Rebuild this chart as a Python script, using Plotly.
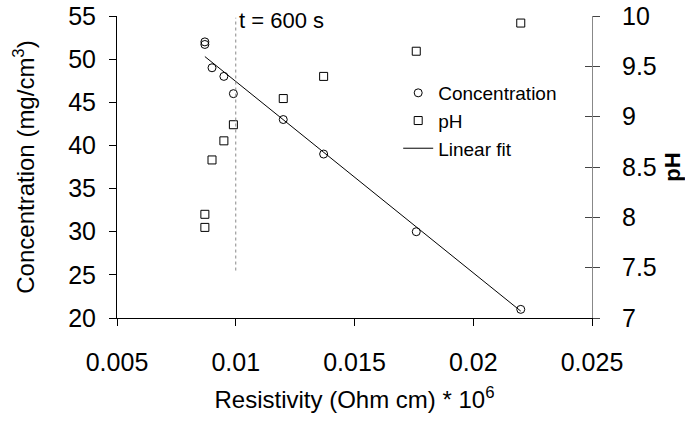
import plotly.graph_objects as go

# ---- data ----
resistivity = [0.0087, 0.0087, 0.0090, 0.0095, 0.0099, 0.0120, 0.0137, 0.0176, 0.0220]
concentration = [52.0, 51.7, 49.0, 48.0, 46.0, 43.0, 39.0, 30.0, 21.0]
ph_resistivity = [0.0087, 0.0087, 0.0090, 0.0095, 0.0099, 0.0120, 0.0137, 0.0176, 0.0220]
ph_values = [7.90, 8.03, 8.57, 8.76, 8.92, 9.18, 9.40, 9.65, 9.93]
fit_x = [0.0087, 0.0220]
fit_y = [50.3, 20.8]
marker_time_x = 0.01
marker_time_y = [25.5, 54.8]
x_ticks = [0.005, 0.01, 0.015, 0.02, 0.025]
x_ticktext = ["0.005", "0.01", "0.015", "0.02", "0.025"]
y_ticks = [20, 25, 30, 35, 40, 45, 50, 55]
ph_ticks = [7, 7.5, 8, 8.5, 9, 9.5, 10]
ph_ticktext = ["7", "7.5", "8", "8.5", "9", "9.5", "10"]

FONT = "Liberation Sans, Arial, sans-serif"

fig = go.Figure()

fig.add_trace(go.Scatter(
    x=resistivity, y=concentration, mode="markers", name="Concentration",
    marker=dict(symbol="circle-open", size=8, color="black", line=dict(width=1, color="black")),
    yaxis="y", hoverinfo="skip"))

fig.add_trace(go.Scatter(
    x=ph_resistivity, y=ph_values, mode="markers", name="pH",
    marker=dict(symbol="square-open", size=8, color="black", line=dict(width=1, color="black")),
    yaxis="y2", hoverinfo="skip"))

fig.add_trace(go.Scatter(
    x=fit_x, y=fit_y, mode="lines", name="Linear fit",
    line=dict(color="black", width=1), yaxis="y", hoverinfo="skip"))

# helper overlay axis carrying the inner half of the crossing right ticks
fig.add_trace(go.Scatter(
    x=ph_resistivity, y=ph_values, mode="markers", showlegend=False,
    marker=dict(opacity=0, size=1), yaxis="y3", hoverinfo="skip"))

fig.add_shape(type="line", xref="x", yref="y",
              x0=marker_time_x, x1=marker_time_x, y0=marker_time_y[0], y1=marker_time_y[1],
              line=dict(color="#888888", width=1, dash="dot"))

fig.add_annotation(x=marker_time_x, y=54.5, xref="x", yref="y", text="t = 600 s",
                   showarrow=False, xanchor="left", yanchor="middle", xshift=1,
                   font=dict(family=FONT, size=22, color="black"))

fig.update_layout(
    width=685, height=422,
    margin=dict(l=117, r=93, t=16, b=104, autoexpand=False),
    paper_bgcolor="white", plot_bgcolor="white",
    font=dict(family=FONT, color="black"),
    showlegend=True,
    legend=dict(x=0.592, y=0.808, xanchor="left", yanchor="top",
                bgcolor="rgba(0,0,0,0)", font=dict(family=FONT, size=19, color="black"),
                tracegroupgap=0),
    xaxis=dict(range=[0.005, 0.025], tickvals=x_ticks, ticktext=x_ticktext,
               automargin=False,
               showgrid=False, zeroline=False, showline=True, linecolor="black", linewidth=1,
               ticks="outside", ticklen=7, tickcolor="black", ticklabelstandoff=15,
               tickfont=dict(family=FONT, size=25, color="black"),
               title=dict(text="Resistivity (Ohm cm) * 10<sup>6</sup>",
                          font=dict(family=FONT, size=24, color="black"), standoff=16)),
    yaxis=dict(range=[20, 55], tickvals=y_ticks,
               automargin=False,
               showgrid=False, zeroline=False, showline=True, linecolor="black", linewidth=1,
               ticks="outside", ticklen=7, tickcolor="black", ticklabelstandoff=8,
               tickfont=dict(family=FONT, size=25, color="black"),
               title=dict(text="Concentration (mg/cm<sup>3</sup>)",
                          font=dict(family=FONT, size=24, color="black"), standoff=26)),
    yaxis2=dict(range=[7, 10], tickvals=ph_ticks, ticktext=ph_ticktext,
                overlaying="y", side="right", anchor="x", automargin=False,
                showgrid=False, zeroline=False, showline=True, linecolor="#888888", linewidth=1,
                ticks="outside", ticklen=7, tickcolor="#444444", ticklabelstandoff=17,
                tickfont=dict(family=FONT, size=25, color="black"),
                title=dict(text="<b>pH</b>", font=dict(family=FONT, size=22, color="black"),
                           standoff=12)),
    yaxis3=dict(range=[7, 10], tickvals=ph_ticks,
                overlaying="y", side="right", anchor="x", automargin=False,
                showgrid=False, zeroline=False, showline=False,
                ticks="inside", ticklen=7, tickcolor="#444444", showticklabels=False),
)

fig.write_html("out.html", config={"displayModeBar": False},
               post_script="document.body.style.margin='0';document.body.style.padding='0';")
